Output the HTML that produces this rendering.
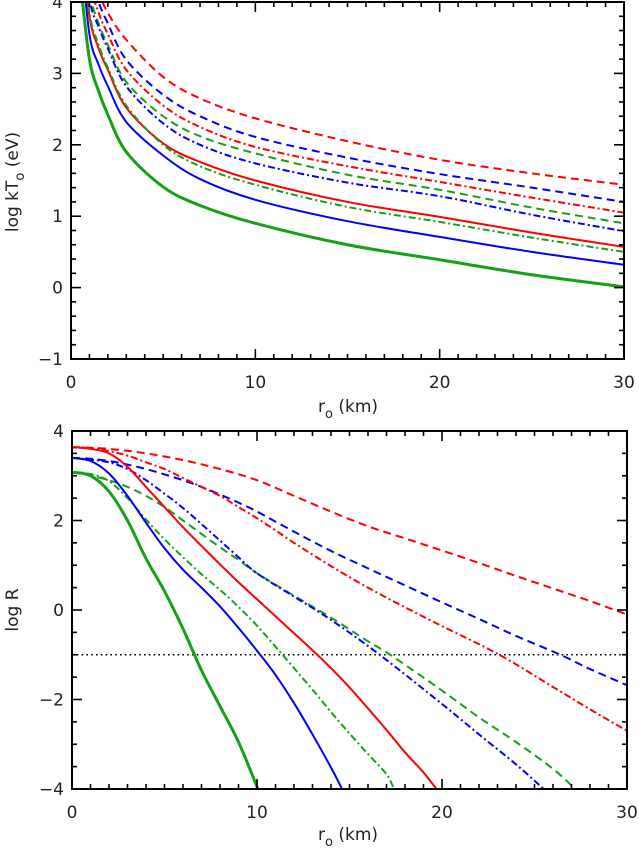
<!DOCTYPE html>
<html><head><meta charset="utf-8">
<style>
html,body{margin:0;padding:0;background:#fff;}
svg{display:block;font-family:"DejaVu Sans","Liberation Sans",sans-serif;}
</style></head>
<body>
<svg id="chart" width="639" height="856" viewBox="0 0 639 856" xmlns="http://www.w3.org/2000/svg"></svg>
<script>
// ---------- data: top panel (log kT_o vs r_o) ----------
const topR = [0.5,1,1.5,2,3,5,7,10,15,20,25,30];
const topGreenSolid = [4.3,3.2,2.75,2.42,1.9,1.41,1.15,0.9,0.6,0.39,0.18,0.01];
const topBlueSolid = [4.8,3.55,3.12,2.82,2.32,1.85,1.52,1.23,0.93,0.71,0.5,0.32];
const topRedSolid = [5,3.8,3.35,3.05,2.52,2.02,1.76,1.5,1.2,0.99,0.77,0.57];
const topGreenDashdot = [5,3.85,3.4,3.08,2.55,2.0,1.7,1.44,1.13,0.92,0.7,0.5];
const topBlueDashdot = [5.2,4.05,3.65,3.35,2.82,2.3,2.0,1.74,1.47,1.28,1.02,0.79];
const topGreenDashed = [5.2,4.15,3.7,3.4,2.88,2.4,2.12,1.88,1.58,1.37,1.12,0.9];
const topRedDashdot = [5.3,4.3,3.85,3.55,3.05,2.55,2.25,1.97,1.7,1.48,1.26,1.05];
const topBlueDashed = [5.4,4.45,4.0,3.7,3.19,2.7,2.4,2.11,1.82,1.59,1.4,1.2];
const topRedDashed = [5.6,4.7,4.15,3.85,3.47,2.95,2.65,2.37,2.05,1.79,1.6,1.44];
const topXTicks = ["0","10","20","30"];
const topYTicks = ["\u22121","0","1","2","3","4"];

// ---------- data: bottom panel (log R vs r_o) ----------
const rGreenSolid = [0,1,2,3,4,5,6,7,8,9,10.05];
const vGreenSolid = [3.08,3.0,2.65,2.0,1.15,0.42,-0.42,-1.35,-2.15,-2.95,-4];
const rBlueSolid = [0,1,2,3,4,5,6,7,8,9,10,11,12,13,14,14.6];
const vBlueSolid = [3.4,3.33,3.05,2.55,1.95,1.38,0.9,0.5,0.08,-0.4,-0.91,-1.45,-2.08,-2.78,-3.52,-4];
const rRedSolid = [0,1,2,3,4,5,6,7,8,9,10,11,12,13,14,15,16,17,18,19,19.7];
const vRedSolid = [3.64,3.6,3.5,3.2,2.75,2.3,1.85,1.43,1.02,0.62,0.24,-0.14,-0.52,-0.9,-1.3,-1.73,-2.2,-2.68,-3.18,-3.63,-4];
const rGreenDashdot = [0,1,2,3,4,5,6,7,8,9,10,11,12,13,14,15,16,17,17.4];
const vGreenDashdot = [3.08,3.04,2.88,2.5,2.02,1.58,1.18,0.8,0.45,0.07,-0.35,-0.82,-1.3,-1.78,-2.28,-2.76,-3.22,-3.67,-4];
const rGreenDashed = [0,1,2,3,4,5,6,7,8,9,10,12,14,16,17.2,20,22,24,26,27.2];
const vGreenDashed = [3.08,3.0,2.9,2.75,2.55,2.3,2.0,1.7,1.4,1.12,0.82,0.32,-0.17,-0.7,-1,-1.8,-2.4,-2.95,-3.55,-4];
const rBlueDashdot = [0,1,2,3,4,5,6,7,8,9,10,12,14,16.6,20,22,24,25.5];
const vBlueDashdot = [3.4,3.36,3.3,3.15,2.9,2.6,2.28,1.92,1.55,1.18,0.82,0.3,-0.22,-0.99,-2.1,-2.78,-3.45,-4];
const rRedDashdot = [0,1,2,3,4,5,6,7,8,9,10,11,12,14,16,18,20,23.1,26,28,30];
const vRedDashdot = [3.64,3.62,3.55,3.45,3.3,3.15,2.95,2.75,2.55,2.3,2.05,1.78,1.5,0.98,0.5,0.06,-0.36,-1,-1.72,-2.22,-2.7];
const rBlueDashed = [0,1,2,3,4,5,6,7,8,9,10,12,14,16,18,20,22,24,26.4,28,30];
const vBlueDashed = [3.4,3.38,3.33,3.25,3.15,3.03,2.9,2.75,2.58,2.4,2.2,1.75,1.32,0.93,0.55,0.17,-0.2,-0.58,-1,-1.32,-1.68];
const rRedDashed = [0,2,4,6,8,10,12,14,16,18,20,22,24,26,28,30];
const vRedDashed = [3.64,3.6,3.5,3.35,3.15,2.9,2.55,2.2,1.87,1.6,1.33,1.05,0.76,0.48,0.2,-0.1];
const thresholdLevel = [-1];
const botXTicks = ["0","10","20","30"];
const botYTicks = ["\u22124","\u22122","0","2","4"];

const NS = "http://www.w3.org/2000/svg";
const svg = document.getElementById('chart');
function mk(tag, attrs, parent){
  const e = document.createElementNS(NS, tag);
  for (const k in attrs) e.setAttribute(k, attrs[k]);
  (parent||svg).appendChild(e);
  return e;
}
const RED="#ff0000", BLUE="#0000ff", GREEN="#17a017";
const DASH="8,5", DASHDOT="7,3,2,3";

function panel(cfg){
  const {id,x0,x1,y0,y1,ymin,ymax,ymajor,yminor,ylabels} = cfg;
  const sx = r => x0 + (r-0)/30*(x1-x0);
  const sy = v => y1 - (v-ymin)/(ymax-ymin)*(y1-y0);
  const g = mk('g', {});
  
  
  const clip = mk('clipPath', {id:id+'-clip'}, g);
  mk('rect', {x:x0, y:y0, width:x1-x0, height:y1-y0}, clip);
  const series = mk('g', {'clip-path':'url(#'+id+'-clip)'}, g);
  
  
  const ticks = mk('g', {stroke:'#000','stroke-width':1.6}, g);
  
  
  for (let r=0; r<=30; r++){
    const L = (r%10===0)?10:5;
    mk('line',{x1:sx(r),x2:sx(r),y1:y1,y2:y1-L},ticks);
    mk('line',{x1:sx(r),x2:sx(r),y1:y0,y2:y0+L},ticks);
  }
  const n = Math.round((ymax-ymin)/yminor);
  for (let i=0;i<=n;i++){
    const v = ymin + i*yminor;
    const major = Math.abs((v-ymin)/ymajor - Math.round((v-ymin)/ymajor))<1e-6;
    const L = major?10:5;
    mk('line',{x1:x0,x2:x0+L,y1:sy(v),y2:sy(v)},ticks);
    mk('line',{x1:x1,x2:x1-L,y1:sy(v),y2:sy(v)},ticks);
  }
  const fr = mk('rect',{x:x0,y:y0,width:x1-x0,height:y1-y0,fill:'none',stroke:'#000','stroke-width':2},g);
  
  
  cfg.xlabels.forEach((t,i)=>{
    const tx = mk('text',{x:sx(i*10),y:y1+29,'text-anchor':'middle','font-size':17,fill:'#222'},g);
    tx.textContent = t;
    
    
  });
  ylabels.forEach((t,i)=>{
    const v = ymin + i*ymajor;
    const tx = mk('text',{x:x0-8,y:sy(v)+6,'text-anchor':'end','font-size':17,fill:'#222'},g);
    tx.textContent = t;
    
    
  });
  return {sx,sy,series};
}

function line(p, rs, vs, color, dash, w, name){
  const pts = rs.map((r,i)=>[p.sx(r), p.sy(vs[i])]);
  let d = 'M' + pts[0][0].toFixed(2) + ',' + pts[0][1].toFixed(2);
  for (let i=0;i<pts.length-1;i++){
    const p0 = pts[Math.max(0,i-1)], p1 = pts[i], p2 = pts[i+1], p3 = pts[Math.min(pts.length-1,i+2)];
    const c1 = [p1[0]+(p2[0]-p0[0])/6, p1[1]+(p2[1]-p0[1])/6];
    const c2 = [p2[0]-(p3[0]-p1[0])/6, p2[1]-(p3[1]-p1[1])/6];
    d += 'C'+c1[0].toFixed(2)+','+c1[1].toFixed(2)+' '+c2[0].toFixed(2)+','+c2[1].toFixed(2)+' '+p2[0].toFixed(2)+','+p2[1].toFixed(2);
  }
  const a = {d:d, fill:'none', stroke:color, 'stroke-width':w, 'stroke-linejoin':'round'};
  if (dash) a['stroke-dasharray'] = dash;
  const e = mk('path', a, p.series);
  
  
}

const pt = panel({id:'top',x0:71,x1:624,y0:2,y1:359,ymin:-1,ymax:4,ymajor:1,yminor:0.2,xlabels:topXTicks,ylabels:topYTicks});
line(pt, topR, topRedDashed, RED, DASH, 2, 'top-red-dashed');
line(pt, topR, topBlueDashed, BLUE, DASH, 2, 'top-blue-dashed');
line(pt, topR, topRedDashdot, RED, DASHDOT, 2, 'top-red-dashdot');
line(pt, topR, topGreenDashed, GREEN, DASH, 2, 'top-green-dashed');
line(pt, topR, topBlueDashdot, BLUE, DASHDOT, 2, 'top-blue-dashdot');
line(pt, topR, topRedSolid, RED, null, 2, 'top-red-solid');
line(pt, topR, topGreenDashdot, GREEN, DASHDOT, 2, 'top-green-dashdot');
line(pt, topR, topBlueSolid, BLUE, null, 2, 'top-blue-solid');
line(pt, topR, topGreenSolid, GREEN, null, 3, 'top-green-solid');

const pb = panel({id:'bottom',x0:72,x1:627,y0:431,y1:789,ymin:-4,ymax:4,ymajor:2,yminor:0.5,xlabels:botXTicks,ylabels:botYTicks});
const dl = mk('line',{x1:pb.sx(0),x2:pb.sx(30),y1:pb.sy(thresholdLevel[0]),y2:pb.sy(thresholdLevel[0]),stroke:'#000','stroke-width':1.6,'stroke-dasharray':'1.6,3.2'},pb.series);


line(pb, rRedDashed, vRedDashed, RED, DASH, 2, 'bottom-red-dashed');
line(pb, rBlueDashed, vBlueDashed, BLUE, DASH, 2, 'bottom-blue-dashed');
line(pb, rRedDashdot, vRedDashdot, RED, DASHDOT, 2, 'bottom-red-dashdot');
line(pb, rGreenDashed, vGreenDashed, GREEN, DASH, 2, 'bottom-green-dashed');
line(pb, rBlueDashdot, vBlueDashdot, BLUE, DASHDOT, 2, 'bottom-blue-dashdot');
line(pb, rRedSolid, vRedSolid, RED, null, 2, 'bottom-red-solid');
line(pb, rGreenDashdot, vGreenDashdot, GREEN, DASHDOT, 2, 'bottom-green-dashdot');
line(pb, rBlueSolid, vBlueSolid, BLUE, null, 2, 'bottom-blue-solid');
line(pb, rGreenSolid, vGreenSolid, GREEN, null, 3, 'bottom-green-solid');

function title(x,y,html,rot,name){
  const t = mk('text',{x:x,y:y,'text-anchor':'middle','font-size':17,fill:'#222'});
  if (rot) t.setAttribute('transform','rotate(-90 '+x+' '+y+')');
  t.innerHTML = html;
  
  
}
title(348,412,'r<tspan font-size="13" dy="6">o</tspan><tspan dy="-6"> (km)</tspan>',false,'top-x-axis-title');
title(348,840,'r<tspan font-size="13" dy="6">o</tspan><tspan dy="-6"> (km)</tspan>',false,'bottom-x-axis-title');
title(18,182,'log kT<tspan font-size="13" dy="6">o</tspan><tspan dy="-6"> (eV)</tspan>',true,'top-y-axis-title');
title(18,610,'log R',true,'bottom-y-axis-title');
</script>
</body></html>
